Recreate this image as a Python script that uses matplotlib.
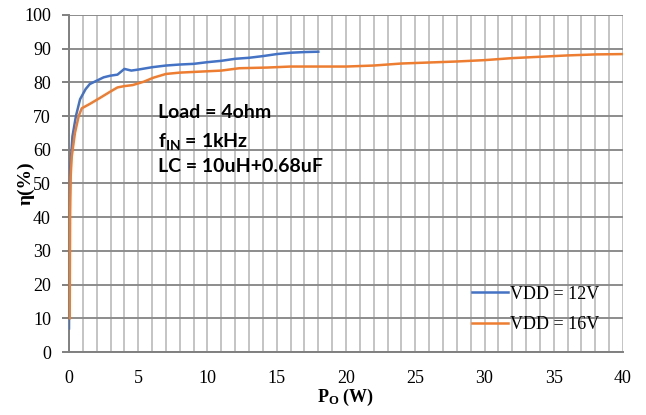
import matplotlib.pyplot as plt
from matplotlib.ticker import MultipleLocator

plt.rcParams["mathtext.fontset"] = "custom"
plt.rcParams["mathtext.bf"] = "Liberation Serif:bold"
plt.rcParams["mathtext.sf"] = "Lato:bold"

# VDD = 12V
po_12v = [0.0, 0.05, 0.1, 0.25, 0.5, 0.8, 1.2, 1.5, 2.0, 2.5, 3.0, 3.5, 4.0,
          4.5, 5.0, 6, 7, 8, 9, 10, 11, 12, 13, 14, 15, 16, 17, 18]
eff_12v = [7, 45, 55, 64, 70, 75, 78, 79.5, 80.5, 81.5, 82, 82.3, 84, 83.5,
           83.8, 84.5, 85, 85.3, 85.5, 86, 86.4, 87, 87.3, 87.8, 88.4, 88.8,
           89, 89.1]

# VDD = 16V
po_16v = [0.05, 0.08, 0.12, 0.2, 0.43, 0.7, 0.92, 1.5, 2.2, 3.0, 3.5, 4.0,
          4.6, 5.4, 6.1, 7, 8, 9.5, 11, 12.3, 14.3, 16, 18, 20, 22, 24, 26,
          28, 30, 32, 34, 36, 38, 40]
eff_16v = [10, 40, 52, 58, 65, 70, 72.3, 73.6, 75.3, 77.3, 78.5, 78.9, 79.2,
           80.2, 81.4, 82.5, 82.9, 83.2, 83.5, 84.2, 84.4, 84.7, 84.7, 84.7,
           85, 85.6, 85.9, 86.2, 86.6, 87.2, 87.6, 88.0, 88.3, 88.4]

notes = ["Load = 4ohm", r"$\mathsf{f_{IN}}$ = 1kHz", "LC = 10uH+0.68uF"]
note_y = [69.4, 60.9, 53.3]

fig = plt.figure(figsize=(6.46, 4.15), dpi=100)
ax = fig.add_axes([0.1068, 0.1518, 0.8576, 0.8121])

ax.plot(po_12v, eff_12v, color="#4472C4", lw=1.8, label="VDD = 12V", zorder=3)
ax.plot(po_16v, eff_16v, color="#ED7D31", lw=1.8, label="VDD = 16V", zorder=3)

ax.set_xlim(0, 40)
ax.set_ylim(0, 100)
ax.xaxis.set_major_locator(MultipleLocator(5))
ax.xaxis.set_minor_locator(MultipleLocator(1))
ax.yaxis.set_major_locator(MultipleLocator(10))

# grid: light verticals every 1 W, darker horizontals every 10 %
ax.grid(which="minor", axis="x", color="#c4c4c4", lw=1.4)
ax.grid(which="major", axis="x", color="#c4c4c4", lw=1.4)
ax.grid(which="major", axis="y", color="#8c8c8c", lw=1.4)
ax.set_axisbelow(True)

for side in ["top", "right"]:
    ax.spines[side].set_visible(False)
for side in ["left", "bottom"]:
    ax.spines[side].set_color("#808080")
    ax.spines[side].set_linewidth(1.4)

ax.tick_params(axis="y", which="major", length=5, color="#808080", width=1.4,
               labelsize=13, pad=8)
ax.tick_params(axis="x", which="both", length=0, labelsize=13, pad=13)
for lbl in ax.get_xticklabels() + ax.get_yticklabels():
    lbl.set_fontfamily("Liberation Serif")

ax.set_xlabel(r"$\mathbf{P_O}$" + " (W)", fontfamily="Liberation Serif",
              fontweight="bold", fontsize=13, labelpad=0)
ax.set_ylabel("η(%)", fontfamily="Liberation Serif", fontweight="bold",
              fontsize=14, labelpad=-8)

for txt, yv in zip(notes, note_y):
    ax.text(6.4, yv, txt, fontfamily="Lato", fontweight="bold", fontsize=14,
            va="baseline", ha="left")

leg = ax.legend(loc="lower left", bbox_to_anchor=(0.727, 0.056), frameon=False,
                prop={"family": "Liberation Serif", "size": 13},
                handlelength=2.0, handletextpad=0.1, labelspacing=0.75,
                borderaxespad=0, borderpad=0)

fig.savefig("out.png", dpi=100)
